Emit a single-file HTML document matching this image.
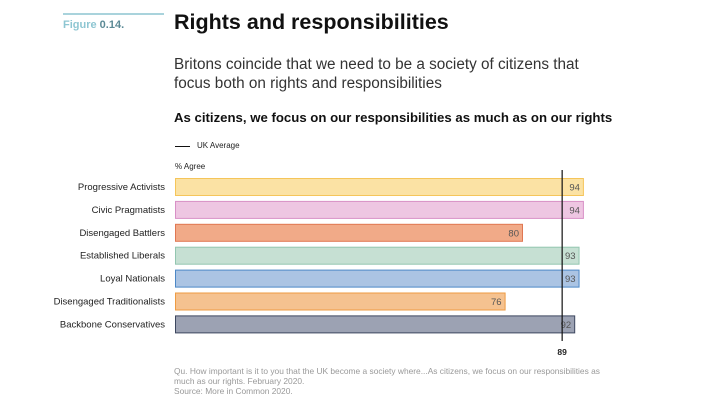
<!DOCTYPE html>
<html><head><meta charset="utf-8"><style>
body{margin:0;width:720px;height:405px;background:#fff;font-family:"Liberation Sans",sans-serif;position:relative;overflow:hidden}
.a{position:absolute;white-space:nowrap}
</style></head><body>
<div class="a" style="left:63px;top:13px;width:101px;height:2px;background:#a9d3dc"></div>
<div class="a" style="left:63px;top:19px;font-size:11px;font-weight:bold;color:#8ec6d2">Figure <span style="color:#5c8a96">0.14.</span></div>
<div class="a" style="left:174px;top:10px;font-size:21.5px;font-weight:bold;color:#111">Rights and responsibilities</div>
<div class="a" style="left:174px;top:55px;font-size:15.3px;color:#333;line-height:19px">Britons coincide that we need to be a society of citizens that<br>focus both on rights and responsibilities</div>
<div class="a" style="left:174px;top:110px;font-size:13.2px;font-weight:bold;color:#111">As citizens, we focus on our responsibilities as much as on our rights</div>
<div class="a" style="left:175px;top:146px;width:15px;height:1px;background:#111"></div>
<div class="a" style="left:197px;top:141px;font-size:8px;color:#222">UK Average</div>
<div class="a" style="left:175px;top:162px;font-size:8px;color:#222">% Agree</div>
<svg id="c" class="a" style="left:0;top:0" width="720" height="405"></svg>
<div class="a" style="left:174px;top:366px;font-size:8.4px;color:#999;line-height:10px">Qu. How important is it to you that the UK become a society where...As citizens, we focus on our responsibilities as<br>much as our rights. February 2020.<br>Source: More in Common 2020.</div>
<script>
const categories=["Progressive Activists","Civic Pragmatists","Disengaged Battlers","Established Liberals","Loyal Nationals","Disengaged Traditionalists","Backbone Conservatives"];
const values=[94,94,80,93,93,76,92];
const average=89;
const fills=["#fbe2a4","#eec6e2","#f1aa88","#c6e0d3","#abc4e3","#f5c290","#9ca2b3"];
const strokes=["#f5c55a","#d890c6","#e07752","#93c6b0","#4d88c6","#ee9b42","#3d475f"];
const svg=document.getElementById('c');const NS="http://www.w3.org/2000/svg";
const x=v=>175+v*4.35;const y=i=>178+i*22.9;const bh=17;
function mk(t,a){const e=document.createElementNS(NS,t);for(const k in a)e.setAttribute(k,a[k]);svg.appendChild(e);return e;}
categories.forEach((c,i)=>{
 const r=mk('rect',{x:175.5,y:y(i)+0.5,width:x(values[i])-175-1,height:bh,fill:fills[i],stroke:strokes[i],'stroke-width':1});
 
 
 const l=mk('text',{x:165,y:y(i)+12,'text-anchor':'end','font-size':9.5,fill:'#222'});l.textContent=c;
 
 
 const v=mk('text',{x:x(values[i])-4,y:y(i)+12.5,'text-anchor':'end','font-size':9.5,fill:'#555'});v.textContent=values[i];
 
 
});
const ln=mk('line',{x1:x(average),x2:x(average),y1:170,y2:341,stroke:'#111','stroke-width':1.2});


const at=mk('text',{x:x(average),y:355,'text-anchor':'middle','font-size':8.5,'font-weight':'bold',fill:'#222'});at.textContent=average;


</script>
</body></html>
